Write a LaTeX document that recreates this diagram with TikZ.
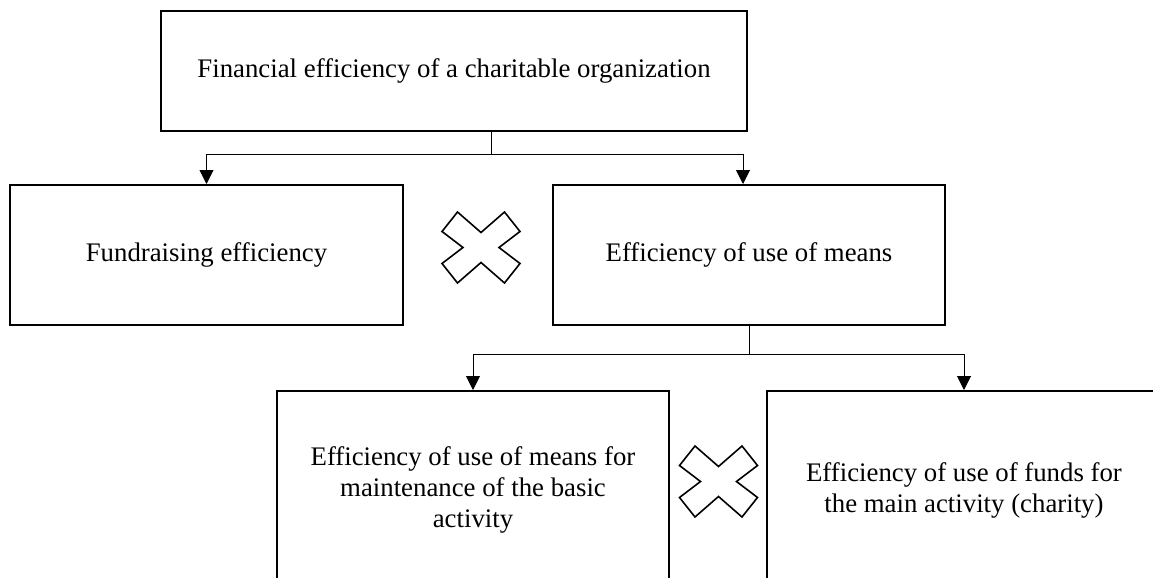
\documentclass[tikz,border=0pt]{standalone}
\usepackage{fontspec}
\setmainfont{Liberation Serif}
\usetikzlibrary{arrows.meta}

\begin{document}
\begin{tikzpicture}[x=0.5pt, y=-0.5pt,
		box/.style={draw, line width=1pt, inner sep=0pt, align=center,
			font=\fontsize{13.4}{15.5}\selectfont},
		mult/.pic={\draw[line width=0.8pt] (-23.5,-35.5) -- (0,-15) -- (23.5,-35.5) -- (39,-16) -- (18,0) -- (39,16)
			-- (23.5,35.5) -- (0,15) -- (-23.5,35.5) -- (-39,16) -- (-18,0) -- (-39,-16) -- cycle;}]
	\useasboundingbox (0,0) rectangle (1153,578);
	\clip (0,0) rectangle (1153,578);
	\node[box, minimum width=293pt, minimum height=60.25pt] (fin) at (454,71) {Financial efficiency of a charitable organization};
	\node[box, minimum width=196.5pt, minimum height=70pt] (fund) at (206.5,255) {Fundraising efficiency};
	\node[box, minimum width=196pt, minimum height=70pt] (means) at (749,255) {Efficiency of use of means};
	\node[box, minimum width=196pt, minimum height=99pt] (maint) at (473,490) {Efficiency of use of means for\\maintenance of the basic\\activity};
	\node[box, minimum width=197pt, minimum height=99pt] (main) at (964,490) {Efficiency of use of funds for\\the main activity (charity)};
	\coordinate (s1) at (491,154);
	\coordinate (s2) at (749,354);
	\begin{scope}[line width=0.5pt, >={Triangle[length=7pt,width=7pt]}]
		\draw (fin.south -| s1) -- (s1);
		\draw[->] (s1) -| (fund.north);
		\draw[->] (s1) -| ([xshift=-3pt]means.north);
		\draw (means.south) -- (s2);
		\draw[->] (s2) -| (maint.north);
		\draw[->] (s2) -| (main.north);
	\end{scope}
	% multiplication signs between the boxes
	\pic at (481,247.5) {mult};
	\pic at (718.5,481.5) {mult};
\end{tikzpicture}
\end{document}
